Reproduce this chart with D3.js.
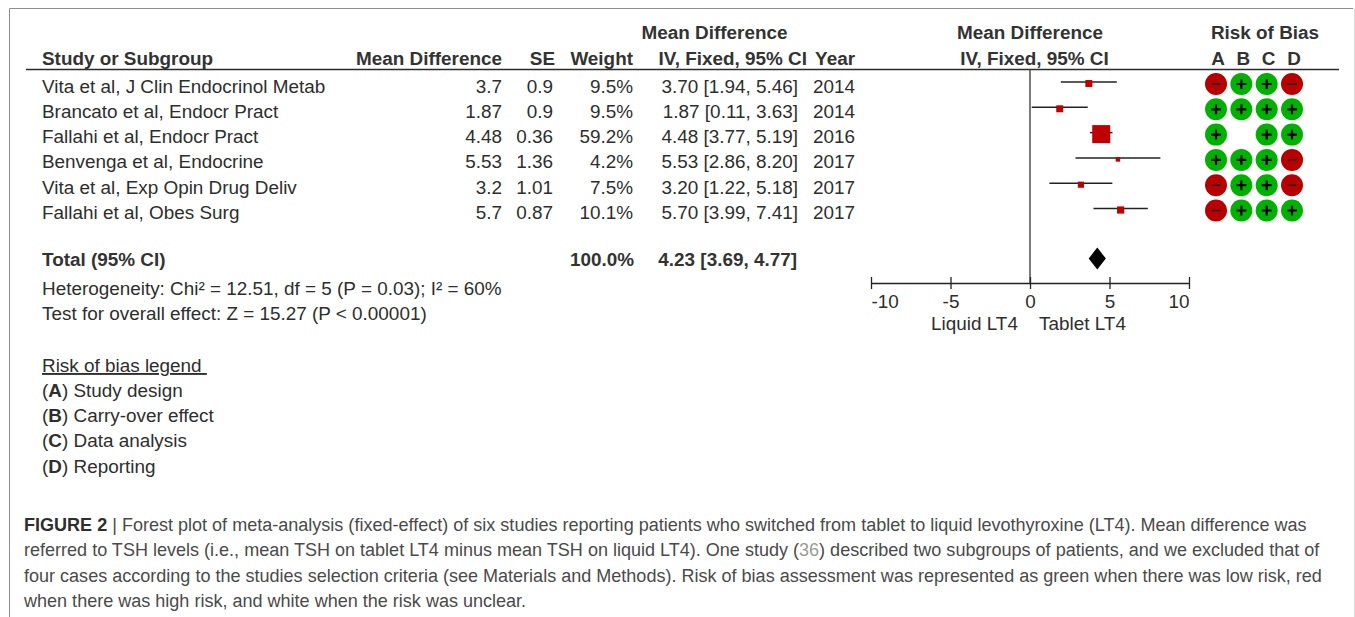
<!DOCTYPE html>
<html>

<head>
  <meta charset="utf8">
  <script src="https://d3js.org/d3.v7.min.js"></script>
  <style>
    html, body {
      margin: 0;
      background: #fff;
    }

    svg {
      display: block;
    }

    text {
      font-family: "Liberation Sans", Arial, sans-serif;
      font-size: 18.9px;
      fill: #2e2e2e;
    }

    .head {
      font-weight: bold;
      fill: #333;
    }

    .caption {
      font-size: 18.05px;
      fill: #4a4a4a;
    }
  </style>
</head>

<body>
  <svg id="chart" width="1355" height="617"></svg>
  <script>
    var studies = [
      "Vita et al, J Clin Endocrinol Metab",
      "Brancato et al, Endocr Pract",
      "Fallahi et al, Endocr Pract",
      "Benvenga et al, Endocrine",
      "Vita et al, Exp Opin Drug Deliv",
      "Fallahi et al, Obes Surg"
    ];
    var meanLabels = ["3.7", "1.87", "4.48", "5.53", "3.2", "5.7"];
    var seLabels = ["0.9", "0.9", "0.36", "1.36", "1.01", "0.87"];
    var weights = [9.5, 9.5, 59.2, 4.2, 7.5, 10.1];
    var means = [3.70, 1.87, 4.48, 5.53, 3.20, 5.70];
    var lows = [1.94, 0.11, 3.77, 2.86, 1.22, 3.99];
    var highs = [5.46, 3.63, 5.19, 8.20, 5.18, 7.41];
    var years = [2014, 2014, 2016, 2017, 2017, 2017];
    var risks = ["-++-", "++++", "+ ++", "+++-", "-++-", "-+++"];
    var riskLetters = ["A", "B", "C", "D"];
    var total = { mean: 4.23, low: 3.69, high: 4.77 };
    var xTicks = [-10, -5, 0, 5, 10];

    var legendRows = [
      ["A", "Study design"],
      ["B", "Carry-over effect"],
      ["C", "Data analysis"],
      ["D", "Reporting"]
    ];

    var captionLines = [
      "Forest plot of meta-analysis (fixed-effect) of six studies reporting patients who switched from tablet to liquid levothyroxine (LT4). Mean difference was",
      "referred to TSH levels (i.e., mean TSH on tablet LT4 minus mean TSH on liquid LT4). One study (|36|) described two subgroups of patients, and we excluded that of",
      "four cases according to the studies selection criteria (see Materials and Methods). Risk of bias assessment was represented as green when there was low risk, red",
      "when there was high risk, and white when the risk was unclear."
    ];

    var chart = d3.select('#chart');

    var x = d3.scaleLinear().domain([-10, 10]).range([871, 1189]);
    var rowY = d3.scalePoint().domain(d3.range(6)).range([92.5, 219]);
    var riskX = d3.scalePoint().domain(riskLetters).range([1216, 1292]);
    var squareSize = d3.scaleSqrt().domain([4.2, 59.2]).range([4.5, 18]);

    function ci(d) {
      return d[0].toFixed(2) + ' [' + d[1].toFixed(2) + ', ' + d[2].toFixed(2) + ']';
    }

    function label(txt, px, py, anchor, cls) {
      return chart.append('text')
        .attr('x', px)
        .attr('y', py)
        .attr('text-anchor', anchor || 'start')
        .attr('class', cls || null)
        .text(txt);
    }

    // outer frame of the figure box, right edge is much fainter
    chart.append('path')
      .attr('d', 'M9.5,617V8.5H1353')
      .attr('fill', 'none')
      .attr('stroke', '#8f8f8f');

    chart.append('line')
      .attr('x1', 1354.5)
      .attr('x2', 1354.5)
      .attr('y1', 8)
      .attr('y2', 617)
      .attr('stroke', '#ddd');

    // header
    label('Mean Difference', 714.5, 39, 'middle', 'head');
    label('Mean Difference', 1030, 39, 'middle', 'head');
    label('Risk of Bias', 1265, 39, 'middle', 'head');
    label('Study or Subgroup', 42, 64.5, 'start', 'head');
    label('Mean Difference', 502, 64.5, 'end', 'head');
    label('SE', 555, 64.5, 'end', 'head');
    label('Weight', 633, 64.5, 'end', 'head');
    label('IV, Fixed, 95% CI', 807, 64.5, 'end', 'head');
    label('Year', 855, 64.5, 'end', 'head');
    label('IV, Fixed, 95% CI', 1034.5, 64.5, 'middle', 'head');

    chart.selectAll('.letter')
      .data(riskLetters)
      .enter()
      .append('text')
      .attr('class', 'letter head')
      .attr('x', (d) => riskX(d) + 2)
      .attr('y', 64.5)
      .attr('text-anchor', 'middle')
      .text((d) => d);

    chart.append('line')
      .attr('x1', 26)
      .attr('x2', 1339)
      .attr('y1', 69.5)
      .attr('y2', 69.5)
      .attr('stroke', '#2b2b2b')
      .attr('stroke-width', 1.6);

    // table rows
    var rows = chart.selectAll('.row')
      .data(studies)
      .enter()
      .append('g')
      .attr('class', 'row')
      .attr('transform', (d, i) => 'translate(0,' + rowY(i) + ')');

    rows.append('text').attr('x', 42).text((d) => d);
    rows.append('text').attr('x', 502).attr('text-anchor', 'end').text((d, i) => meanLabels[i]);
    rows.append('text').attr('x', 553).attr('text-anchor', 'end').text((d, i) => seLabels[i]);
    rows.append('text').attr('x', 633).attr('text-anchor', 'end').text((d, i) => weights[i].toFixed(1) + '%');
    rows.append('text').attr('x', 798).attr('text-anchor', 'end').text((d, i) => ci([means[i], lows[i], highs[i]]));
    rows.append('text').attr('x', 855).attr('text-anchor', 'end').text((d, i) => years[i]);

    // zero line sits under the marks
    chart.append('line')
      .attr('x1', x(0))
      .attr('x2', x(0))
      .attr('y1', 69)
      .attr('y2', 283)
      .attr('stroke', '#444')
      .attr('stroke-width', 1.4);

    // confidence intervals and weight squares
    rows.append('line')
      .attr('x1', (d, i) => x(lows[i]))
      .attr('x2', (d, i) => x(highs[i]))
      .attr('y1', -10.5)
      .attr('y2', -10.5)
      .attr('stroke', '#222')
      .attr('stroke-width', 1.5);

    rows.append('rect')
      .attr('x', (d, i) => x(means[i]) - squareSize(weights[i]) / 2)
      .attr('y', (d, i) => -9 - squareSize(weights[i]) / 2)
      .attr('width', (d, i) => squareSize(weights[i]))
      .attr('height', (d, i) => squareSize(weights[i]))
      .attr('fill', '#c00000');

    // risk of bias circles
    var cells = rows.selectAll('.cell')
      .data((d, i) => riskLetters.map((l, j) => ({ letter: l, mark: risks[i][j] })).filter((c) => c.mark !== ' '))
      .enter()
      .append('g')
      .attr('class', 'cell')
      .attr('transform', (c) => 'translate(' + riskX(c.letter) + ',-8.5)');

    cells.append('circle')
      .attr('r', 11)
      .attr('fill', (c) => c.mark === '+' ? '#00b200' : '#b80000');

    cells.append('path')
      .attr('d', (c) => c.mark === '+' ? 'M-5,0H5M0,-5V5' : 'M-4.5,0H4.5')
      .attr('fill', 'none')
      .attr('stroke', (c) => c.mark === '+' ? '#000' : '#222')
      .attr('stroke-width', (c) => c.mark === '+' ? 2.2 : 1.6);

    // total row
    label('Total (95% CI)', 42, 266, 'start', 'head');
    label('100.0%', 634, 266, 'end', 'head');
    label(ci([total.mean, total.low, total.high]), 797, 266, 'end', 'head');

    var diamondY = 258.5;
    chart.append('path')
      .attr('d', d3.line()([
        [x(total.low), diamondY],
        [x(total.mean), diamondY - 11],
        [x(total.high), diamondY],
        [x(total.mean), diamondY + 11]
      ]) + 'Z')
      .attr('fill', '#000');

    label('Heterogeneity: Chi\u00b2 = 12.51, df = 5 (P = 0.03); I\u00b2 = 60%', 42, 295);
    label('Test for overall effect: Z = 15.27 (P < 0.00001)', 42, 320);

    // axis, end labels are pulled inside the ticks
    var axis = chart.append('g')
      .attr('transform', 'translate(0,283)')
      .call(d3.axisBottom(x).tickValues(xTicks).tickSizeOuter(0).tickFormat((d) => String(d)));

    axis.attr('font-size', null).attr('font-family', null);

    axis.select('.domain')
      .attr('stroke', '#222')
      .attr('stroke-width', 1.4);

    axis.selectAll('.tick line')
      .attr('y1', -6)
      .attr('y2', 6)
      .attr('stroke', '#222')
      .attr('stroke-width', 1.3);

    axis.selectAll('.tick text')
      .attr('y', 24.5)
      .attr('dy', null)
      .attr('text-anchor', (d) => d === -10 ? 'start' : d === 10 ? 'end' : 'middle');

    label('Liquid LT4', 974.5, 330, 'middle');
    label('Tablet LT4', 1082.5, 330, 'middle');

    // risk of bias legend
    label('Risk of bias legend\u00a0', 42, 372).attr('text-decoration', 'underline');

    legendRows.forEach((r, i) => {
      var t = label('(', 42, 397 + i * 25.2);
      t.append('tspan').style('font-weight', 'bold').text(r[0]);
      t.append('tspan').text(') ' + r[1]);
    });

    // caption
    captionLines.forEach((line, i) => {
      var t = label('', 24, d3.scaleLinear().domain([0, 3]).range([531, 607])(i), 'start', 'caption');
      if (i === 0) {
        t.append('tspan').style('font-weight', 'bold').style('fill', '#2e2e2e').text('FIGURE 2');
        t.append('tspan').text(' | ');
      }
      line.split('|').forEach((part, j) => {
        var s = t.append('tspan').text(part);
        if (j === 1) s.style('fill', '#9a9a9a');
      });
    });
  </script>
</body>

</html>
